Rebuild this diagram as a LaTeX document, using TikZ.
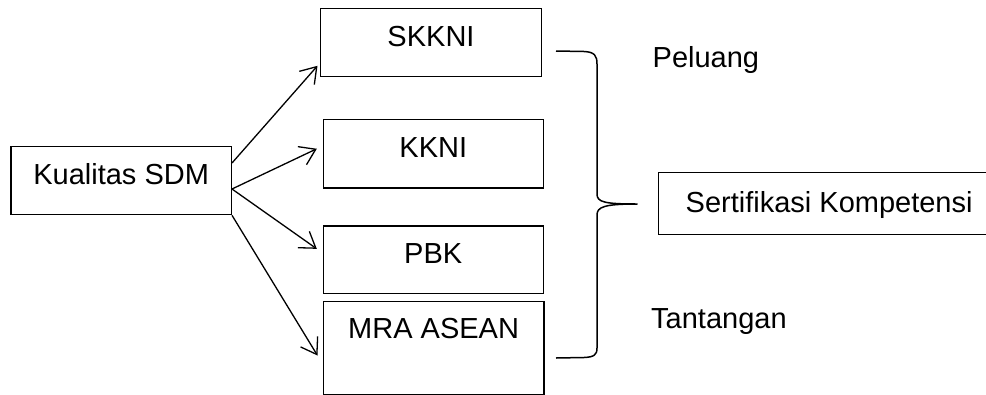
\documentclass[tikz,border=0pt]{standalone}
\usepackage{fontspec}
\setmainfont{Liberation Sans}
\usetikzlibrary{arrows.meta}
\begin{document}
\begin{tikzpicture}[x=1pt,y=-1pt,
  box/.style={draw=black, line width=1.3pt, inner xsep=0pt, inner ysep=0pt,
    anchor=north west, font=\fontsize{29}{34}\selectfont, text height=37.5pt},
  lbl/.style={inner sep=0pt, anchor=base west, font=\fontsize{29}{34}\selectfont},
  arr/.style={line width=1.3pt, -{Straight Barb[length=15pt,width=20pt,line width=1.3pt]}},
  brace/.style={line width=1.5pt, line join=round}]
\useasboundingbox (0,0) rectangle (986,394);
\node[box, minimum width=220.4pt, text depth=30.5pt] (kual) at (10.3,146) {Kualitas SDM};
\node[box, minimum width=220.7pt, text depth=30pt] (skkni) at (320,8) {SKKNI};
\node[box, minimum width=220.2pt, text depth=30.7pt] (kkni) at (322.5,119) {KKNI};
\node[box, minimum width=220.2pt, text depth=30.3pt] (pbk) at (322.5,225.3) {PBK};
\node[box, minimum width=220.6pt, text depth=55.8pt] (mra) at (322.7,300.7) {MRA ASEAN};
\node[box, minimum width=341pt, text height=40.3pt, text depth=22pt] (sert) at (658,171.7) {Sertifikasi Kompetensi};
\node[lbl] (peluang) at (652.5,67) {Peluang};
\node[lbl] (tantangan) at (651,328.3) {Tantangan};
\draw[arr] ([yshift=-17pt]kual.north east) -- ([shift={(-2.5pt,11pt)}]skkni.south west);
\draw[arr] ([yshift=26.3pt]kual.south east) -- ([shift={(-5.7pt,5pt)}]kkni.west);
\draw[arr] ([yshift=26.3pt]kual.south east) -- ([shift={(-5.7pt,11pt)}]pbk.west);
\draw[arr] (kual.south east) -- ([shift={(-5.2pt,-7.5pt)}]mra.west);
\coordinate (btop) at (556,51);
\coordinate (btip) at (637,204);
\coordinate (bbot) at (556,358);
\draw[brace] (btop) -- (584,51.5) .. controls (595,52) and (597,56) .. (597,64)
  -- (597,194) .. controls (597,202) and (604,204) .. (btip)
  .. controls (604,204) and (597,207) .. (597,215)
  -- (597,348) .. controls (597,355) and (594,357) .. (584,357.5) -- (bbot);
\end{tikzpicture}
\end{document}
